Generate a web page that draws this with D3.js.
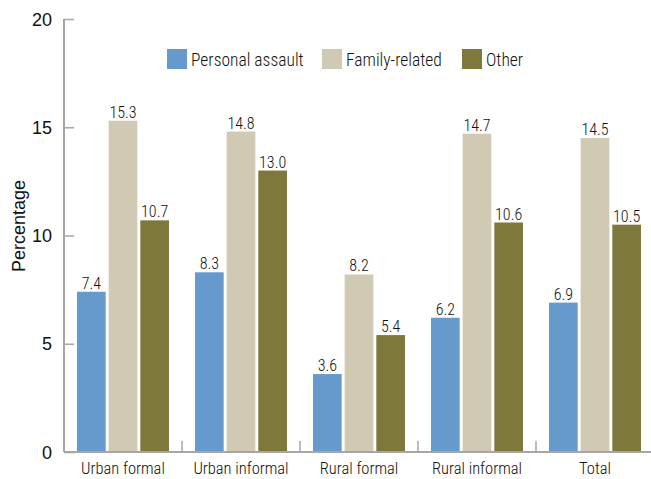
<!DOCTYPE html>
<html><head><meta charset="utf-8">
<script src="https://cdn.jsdelivr.net/npm/d3@7"></script>
<style>
html,body{margin:0;padding:0;background:#fff;overflow:hidden}
.cond{font-family:"Roboto Condensed","Liberation Sans Narrow","Arial Narrow",sans-serif;font-weight:300}
.reg{font-family:"Liberation Sans",Arial,sans-serif}
</style></head>
<body><svg id="c" width="651" height="479"></svg>
<script>
const categories = ["Urban formal","Urban informal","Rural formal","Rural informal","Total"];
const seriesNames = ["Personal assault","Family-related","Other"];
const personalAssault = [7.4, 8.3, 3.6, 6.2, 6.9];
const familyRelated = [15.3, 14.8, 8.2, 14.7, 14.5];
const other = [10.7, 13.0, 5.4, 10.6, 10.5];
const yTicks = [0, 5, 10, 15, 20];
const colors = ["#6699CC", "#D0CAB4", "#7F783C"];

const series = [personalAssault, familyRelated, other];
const svg = d3.select("#c");
const mLeft = 64, mRight = 654, mTop = 19, mBottom = 452;

const x0 = d3.scaleBand().domain(categories).range([mLeft, mRight]).paddingInner(0).paddingOuter(0);
const x1 = d3.scaleBand().domain(seriesNames).range([13, x0.bandwidth() - 13]).paddingInner(0.094).paddingOuter(0);
const y = d3.scaleLinear().domain([0, 20]).range([mBottom, mTop]);

// bars
categories.forEach((cat, i) => {
  const g = svg.append("g").attr("transform", `translate(${x0(cat)},0)`);
  seriesNames.forEach((s, j) => {
    const v = series[j][i];
    g.append("rect").attr("x", x1(s)).attr("y", y(v)).attr("width", x1.bandwidth()).attr("height", y(0) - y(v)).attr("fill", colors[j]);
    g.append("text").attr("class", "cond").attr("x", x1(s) + x1.bandwidth() / 2).attr("y", y(v) - 3)
      .attr("text-anchor", "middle").attr("font-size", 16).attr("fill", "#111").text(v.toFixed(1));
  });
});

// y axis
const yAxis = d3.axisLeft(y).tickValues(yTicks).tickSize(-10).tickPadding(12).tickFormat(d3.format("d"));
const ya = svg.append("g").attr("transform", `translate(${mLeft},0)`).call(yAxis);
ya.select(".domain").attr("stroke", "#a6a6a6").attr("stroke-width", 2).attr("d", `M0,${mTop}V${mBottom}`);
ya.selectAll(".tick line").attr("stroke", "#a6a6a6").attr("stroke-width", 1.5);
ya.selectAll(".tick text").attr("class", "reg").attr("font-size", 18).attr("fill", "#111").attr("dy", "0.34em");

// x axis
const xa = svg.append("g").attr("transform", `translate(0,${mBottom})`);
xa.append("line").attr("x1", mLeft).attr("x2", mRight).attr("y1", 0).attr("y2", 0).attr("stroke", "#a6a6a6").attr("stroke-width", 2);
categories.slice(1).forEach(c => {
  xa.append("line").attr("x1", x0(c)).attr("x2", x0(c)).attr("y1", 0).attr("y2", -11).attr("stroke", "#a6a6a6").attr("stroke-width", 1.5);
});
categories.forEach(c => {
  xa.append("text").attr("class", "cond").attr("x", x0(c) + x0.bandwidth() / 2).attr("y", 22)
    .attr("text-anchor", "middle").attr("font-size", 16.5).attr("fill", "#111").text(c);
});

// y label
svg.append("text").attr("class", "reg").attr("transform", `translate(25,226) rotate(-90)`)
  .attr("text-anchor", "middle").attr("font-size", 18).attr("fill", "#111").text("Percentage");

// legend
const legX = [167, 322, 462];
seriesNames.forEach((s, j) => {
  svg.append("rect").attr("x", legX[j]).attr("y", 49).attr("width", 20).attr("height", 20).attr("fill", colors[j]);
  svg.append("text").attr("class", "cond").attr("x", legX[j] + 24).attr("y", 65.5).attr("font-size", 17.5).attr("fill", "#111").text(s);
});
</script></body></html>
